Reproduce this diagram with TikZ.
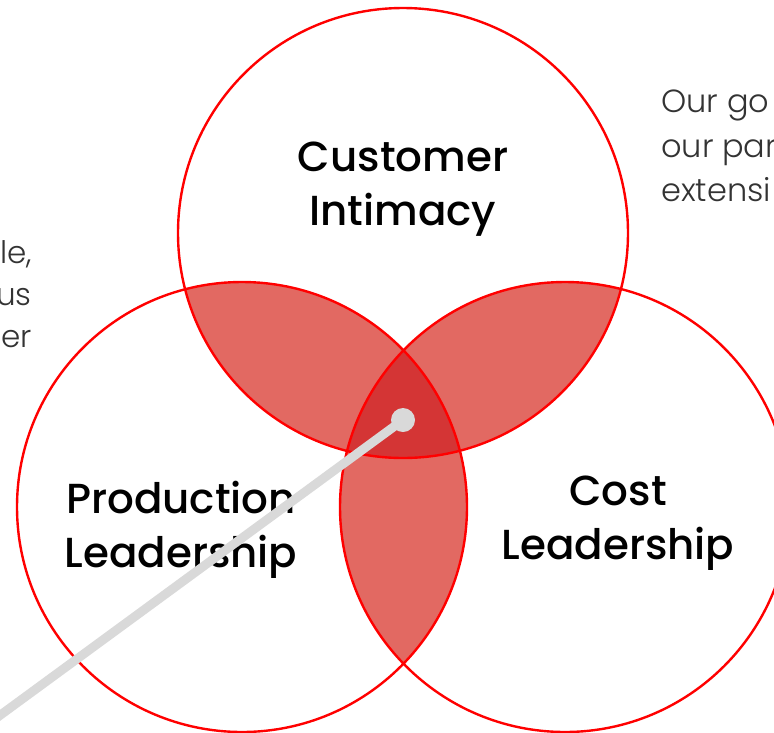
\documentclass[tikz,border=0pt]{standalone}
\usepackage{fontspec}
\setmainfont{Lato}
\newfontfamily\headfont{Poppins Medium}
\newfontfamily\sidefont{Poppins Light}
\usepackage{xcolor}
\usetikzlibrary{positioning}
\definecolor{ringred}{HTML}{FF0000}
\definecolor{lensred}{HTML}{E26962}
\definecolor{corered}{HTML}{D43535}
\definecolor{pointer}{HTML}{D9D9D9}

\begin{document}
\begin{tikzpicture}[
    x=1pt, y=-1pt,
    ring/.style={circle, draw=ringred, line width=2.4pt, minimum size=450pt, inner sep=0pt},
    heading/.style={font=\headfont\fontsize{42}{54.5}\selectfont, align=center, text=black},
    side/.style={font=\sidefont\fontsize{32}{44.5}\selectfont, text=black!80, inner sep=0pt},
    dot/.style={circle, fill=pointer, minimum size=24pt, inner sep=0pt},
    pointerline/.style={draw=pointer, line width=9pt}
]
\useasboundingbox (0,0) rectangle (774,732);

% Circle centres
\coordinate (c1) at (403,233);
\coordinate (c2) at (242,507);
\coordinate (c3) at (565,507);

% Pairwise overlaps
\begin{scope}
  \clip (c1) circle (225pt);
  \fill[lensred] (c2) circle (225pt);
  \fill[lensred] (c3) circle (225pt);
\end{scope}
\begin{scope}
  \clip (c2) circle (225pt);
  \fill[lensred] (c3) circle (225pt);
\end{scope}

% Centre overlap
\begin{scope}
  \clip (c1) circle (225pt);
  \clip (c2) circle (225pt);
  \fill[corered] (c3) circle (225pt);
\end{scope}

% Outlines
\node[ring] (intimacy) at (c1) {};
\node[ring] (production) at (c2) {};
\node[ring] (cost) at (c3) {};

% Labels
\node[heading] (intimacylabel) at (403,189) {Customer\\Intimacy};
\node[heading] (productionlabel) at (181,530) {Production\\Leadership};
\node[heading] (costlabel) at (618,523) {Cost\\Leadership};

% Side texts (cut at the edge)
\node[side, anchor=north west, align=left] (righttext) at (661,90) {Our go\\our par\\extensi};
\node[side, anchor=north east, align=right, font=\sidefont\fontsize{31}{42}\selectfont] (lefttext) at (32,240) {le,\\us\\er};

% Pointer
\node[dot] (core) at (403,420) {};
\coordinate (pointerend) at (-20,730);
\draw[pointerline] (core.center) -- (pointerend);

\end{tikzpicture}
\end{document}
